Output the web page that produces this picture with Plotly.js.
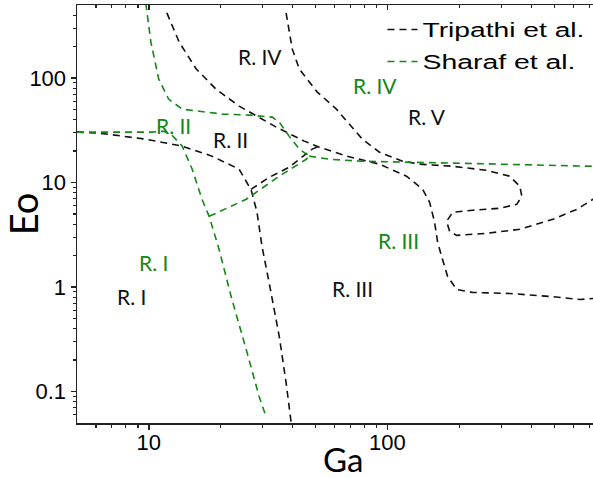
<!DOCTYPE html>
<html>
<head>
<meta charset="utf-8">
<script src="https://cdn.plot.ly/plotly-3.0.1.min.js"></script>
<style>
  html, body { margin: 0; padding: 0; background: #fff; }
  #chart { width: 593px; height: 478px; }
</style>
</head>
<body>
<div id="chart"></div>
<script>
// Flow-regime maps in the Ga–Eo plane (log–log).
// Tripathi et al. boundaries (black)
const tripA_Ga = [5, 6.2, 9.7, 13.8, 18.4, 23.9, 26.3, 26.8, 28.4, 29.8, 31.9, 35.2, 37.6, 39.5];
const tripA_Eo = [30.4, 29.7, 26.0, 22.3, 17.9, 13.4, 9.2, 8.6, 5.2, 2.45, 1.11, 0.336, 0.122, 0.05];

const tripB_Ga = [26.8, 31.9, 38.7, 48.4, 51.8];
const tripB_Eo = [8.6, 11.2, 14.0, 20.9, 22.3];

const tripC_Ga = [11.9, 13.4, 15.8, 19.1, 23.9, 28.2, 34.2, 37.6, 44.8, 51.8, 67.3, 92.6, 120.2, 140.3, 150.2, 157.6, 162.3, 168.6, 178.7, 195, 227.6, 325.6, 479, 641, 727];
const tripC_Eo = [420, 221, 122, 78.4, 53.9, 43.2, 33.9, 30.4, 24.9, 21.8, 17.9, 15.0, 11.5, 8.63, 6.47, 4.16, 2.68, 1.97, 1.26, 0.948, 0.888, 0.868, 0.813, 0.76, 0.777];

const tripD_Ga = [37.6, 39.9, 42.7, 50.8, 61.1, 71.3, 78.5, 92.6, 115.6, 136.3, 187.6, 260.6, 325.6, 358.5, 365.6, 348.3, 295.5, 227.6, 187.6, 177, 182.2, 195, 260.6, 358.5, 493.5, 622.5, 727, 778];
const tripD_Eo = [420, 190, 122, 73.4, 50.4, 33.9, 26.0, 19.5, 16.0, 15.0, 14.3, 13.1, 11.5, 9.2, 7.39, 6.19, 5.67, 5.43, 5.19, 4.26, 3.41, 3.12, 3.27, 3.57, 4.45, 5.55, 6.92, 7.95];

// Sharaf et al. boundaries (green)
const sharA_Ga = [5, 6.79, 10.3, 11.56, 12.5, 13.8, 15.2, 16.7, 17.9, 19.7, 22.3, 25.6, 29.0, 31.0];
const sharA_Eo = [30.4, 30.4, 30.4, 31.0, 28.4, 22.3, 13.4, 6.92, 4.75, 2.29, 0.76, 0.252, 0.0893, 0.0574];

const sharB_Ga = [9.71, 10.2, 11.0, 12.1, 13.8, 20.3, 26.3, 32.9, 35.2, 38.7, 42.7, 47.0];
const sharB_Eo = [520, 221, 97.8, 62.9, 50.4, 45.2, 44.2, 42.3, 37.9, 27.8, 20.9, 17.9];

const sharC_Ga = [17.9, 25.6, 35.2, 45.7, 47.0];
const sharC_Eo = [4.75, 6.92, 11.5, 16.7, 17.9];

const sharD_Ga = [47.0, 57.1, 78.5, 127.4, 200.7, 727];
const sharD_Eo = [17.9, 16.7, 16.0, 15.7, 15.3, 14.3];

// Region labels
const tripLabels = ['R. I', 'R. II', 'R. III', 'R. IV', 'R. V'];
const tripLabel_Ga = [8.48, 21.9, 71.3, 29.3, 145.8];
const tripLabel_Eo = [0.813, 26.0, 0.97, 162.5, 43.2];

const sharLabels = ['R. I', 'R. II', 'R. III', 'R. IV'];
const sharLabel_Ga = [10.5, 12.7, 111.2, 89.0];
const sharLabel_Eo = [1.72, 35.4, 2.80, 85.7];

const tickMajor = [10, 100];
const yTickMajor = [0.1, 1, 10, 100];
const xMinor = [6, 7, 8, 9, 20, 30, 40, 50, 60, 70, 80, 90, 200, 300, 400, 500, 600, 700];
const yMinor = [0.06, 0.07, 0.08, 0.09, 0.2, 0.3, 0.4, 0.5, 0.6, 0.7, 0.8, 0.9,
                2, 3, 4, 5, 6, 7, 8, 9, 20, 30, 40, 50, 60, 70, 80, 90, 200, 300, 400];

const BLACK = '#111111';
const GREEN = 'rgb(20,135,20)';
const DASH = '7px,5px';
const LW = 1.6;
const SANS = 'Liberation Sans, Arial, sans-serif';
const HUMANIST = 'Lato, sans-serif';

function curve(x, y, color, name, show) {
  return {
    type: 'scatter', mode: 'lines', x: x, y: y,
    line: { color: color, width: LW, dash: DASH },
    name: name, legendgroup: name, showlegend: show, hoverinfo: 'skip'
  };
}

const traces = [
  curve(tripA_Ga, tripA_Eo, BLACK, 'Tripathi et al.', true),
  curve(tripB_Ga, tripB_Eo, BLACK, 'Tripathi et al.', false),
  curve(tripC_Ga, tripC_Eo, BLACK, 'Tripathi et al.', false),
  curve(tripD_Ga, tripD_Eo, BLACK, 'Tripathi et al.', false),
  curve(sharA_Ga, sharA_Eo, GREEN, 'Sharaf et al.', true),
  curve(sharB_Ga, sharB_Eo, GREEN, 'Sharaf et al.', false),
  curve(sharC_Ga, sharC_Eo, GREEN, 'Sharaf et al.', false),
  curve(sharD_Ga, sharD_Eo, GREEN, 'Sharaf et al.', false),
  // carrier for the mirrored top axis
  { type: 'scatter', mode: 'markers', x: [10], y: [1], xaxis: 'x2',
    marker: { opacity: 0 }, showlegend: false, hoverinfo: 'skip' }
];

const xRange = [Math.log10(5), 2.8613];
const yRange = [Math.log10(0.05), Math.log10(500)];
const AXC = '#222222';

const annotations = [];
tripLabels.forEach((t, i) => annotations.push({
  x: Math.log10(tripLabel_Ga[i]), y: Math.log10(tripLabel_Eo[i]), xref: 'x', yref: 'y',
  text: t, showarrow: false, font: { family: HUMANIST, size: 21, color: BLACK }
}));
sharLabels.forEach((t, i) => annotations.push({
  x: Math.log10(sharLabel_Ga[i]), y: Math.log10(sharLabel_Eo[i]), xref: 'x', yref: 'y',
  text: t, showarrow: false, font: { family: HUMANIST, size: 21, color: GREEN }
}));
// x-axis title, placed in paper units below the tick labels
annotations.push({
  x: (343 - 77) / 516, y: -(459 - 423) / 418, xref: 'paper', yref: 'paper',
  xanchor: 'center', yanchor: 'middle',
  text: 'Ga', showarrow: false,
  font: { family: HUMANIST, size: 33, color: '#000' }
});

const layout = {
  width: 593, height: 478,
  margin: { l: 77, r: 0, t: 5, b: 55 },
  paper_bgcolor: '#fff', plot_bgcolor: '#fff',
  showlegend: true,
  legend: {
    x: 0.592, y: 0.988, xanchor: 'left', yanchor: 'top',
    bgcolor: 'rgba(0,0,0,0)', tracegroupgap: 3,
    font: { family: SANS, size: 20, color: '#000' }
  },
  xaxis: {
    type: 'log', range: xRange, showgrid: false, zeroline: false,
    showline: true, linecolor: AXC, linewidth: 1.5,
    tickmode: 'array', tickvals: tickMajor, ticktext: ['10', '100'],
    ticks: 'outside', ticklen: 5, tickwidth: 1.5, tickcolor: AXC,
    ticklabelstandoff: -6,
    minor: { tickmode: 'array', tickvals: xMinor, ticks: 'outside', ticklen: 3, tickwidth: 1.2, tickcolor: AXC },
    tickfont: { family: SANS, size: 22, color: '#000' },
    title: { text: '' }
  },
  xaxis2: {
    type: 'log', range: xRange, overlaying: 'x', side: 'top', anchor: 'y',
    showgrid: false, zeroline: false, showline: true, linecolor: AXC, linewidth: 1.5,
    tickmode: 'array', tickvals: tickMajor, showticklabels: false,
    ticks: 'inside', ticklen: 5, tickwidth: 1.5, tickcolor: AXC,
    minor: { tickmode: 'array', tickvals: xMinor, ticks: 'inside', ticklen: 3, tickwidth: 1.2, tickcolor: AXC }
  },
  yaxis: {
    type: 'log', range: yRange, showgrid: false, zeroline: false,
    showline: true, linecolor: AXC, linewidth: 1.5,
    tickmode: 'array', tickvals: yTickMajor, ticktext: ['0.1', '1', '10', '100'],
    ticks: 'outside', ticklen: 5, tickwidth: 1.5, tickcolor: AXC,
    minor: { tickmode: 'array', tickvals: yMinor, ticks: 'outside', ticklen: 3, tickwidth: 1.2, tickcolor: AXC },
    tickfont: { family: SANS, size: 22, color: '#000' },
    title: { text: 'Eo', font: { family: HUMANIST, size: 38, color: '#000' }, standoff: 6 }
  },
  annotations: annotations
};

// widths of the legend entries, in px
const legendTextWidth = { 'Tripathi et al.': 162, 'Sharaf et al.': 153 };

Plotly.newPlot('chart', traces, layout, { staticPlot: true, displayModeBar: false }).then(gd => {
  const legend = gd.querySelector('.legend');
  if (legend) {
    // let the widened entries show in full
    legend.querySelectorAll('[clip-path]').forEach(n => n.removeAttribute('clip-path'));
    legend.removeAttribute('clip-path');
  }
  gd.querySelectorAll('.legendtext').forEach(el => {
    const w = legendTextWidth[el.textContent];
    if (w) {
      el.setAttribute('textLength', w);
      el.setAttribute('lengthAdjust', 'spacingAndGlyphs');
    }
  });
});
</script>
</body>
</html>
